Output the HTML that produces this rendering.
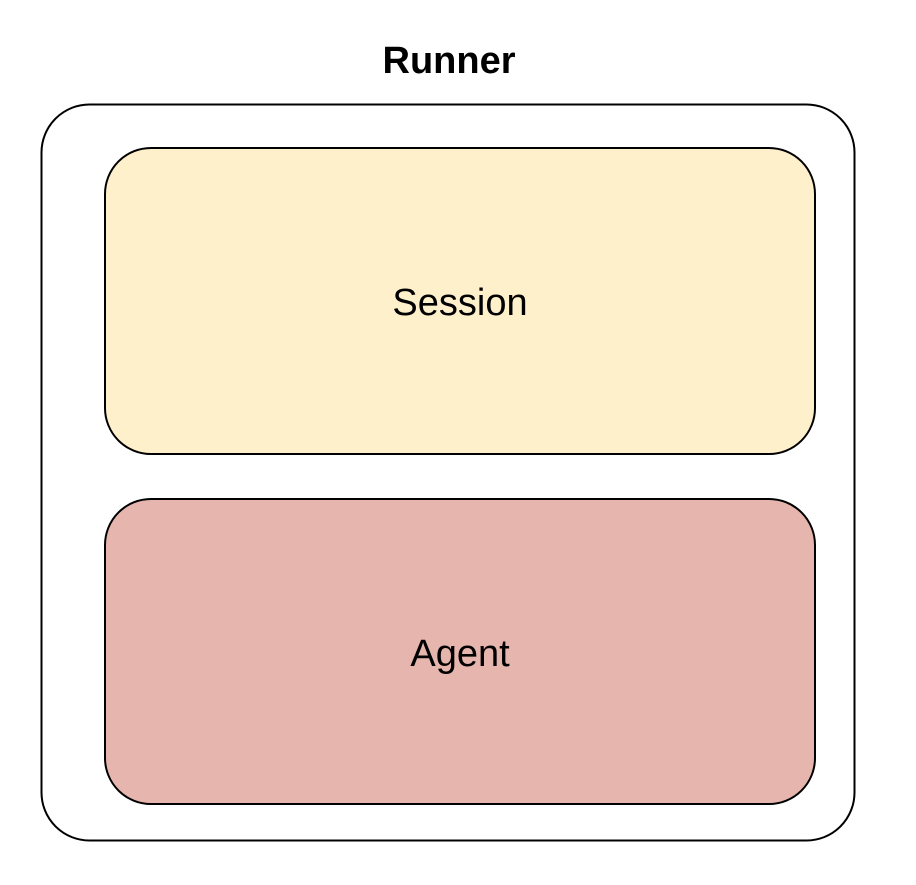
<!DOCTYPE html>
<html><head><meta charset="utf-8"><style>
body{margin:0;width:916px;height:880px;background:#fff;font-family:"Liberation Sans",Arial,sans-serif;}
</style></head><body>
<svg width="916" height="880" xmlns="http://www.w3.org/2000/svg">
<rect x="0" y="0" width="916" height="880" fill="#fff"/>
<text x="449" y="73" text-anchor="middle" font-family="Liberation Sans, Arial, sans-serif" font-size="38" font-weight="bold" fill="#000">Runner</text>
<rect x="41.5" y="104.5" width="813" height="736" rx="48" ry="48" fill="#fff" stroke="#000" stroke-width="2"/>
<rect x="105" y="148" width="710" height="306" rx="46" ry="46" fill="#fff0cc" stroke="#000" stroke-width="2"/>
<text x="460" y="315" text-anchor="middle" font-family="Liberation Sans, Arial, sans-serif" font-size="38" fill="#000">Session</text>
<rect x="105" y="499" width="710" height="305" rx="46" ry="46" fill="#e6b6ae" stroke="#000" stroke-width="2"/>
<text x="460" y="666" text-anchor="middle" font-family="Liberation Sans, Arial, sans-serif" font-size="38" fill="#000">Agent</text>
</svg>
</body></html>
